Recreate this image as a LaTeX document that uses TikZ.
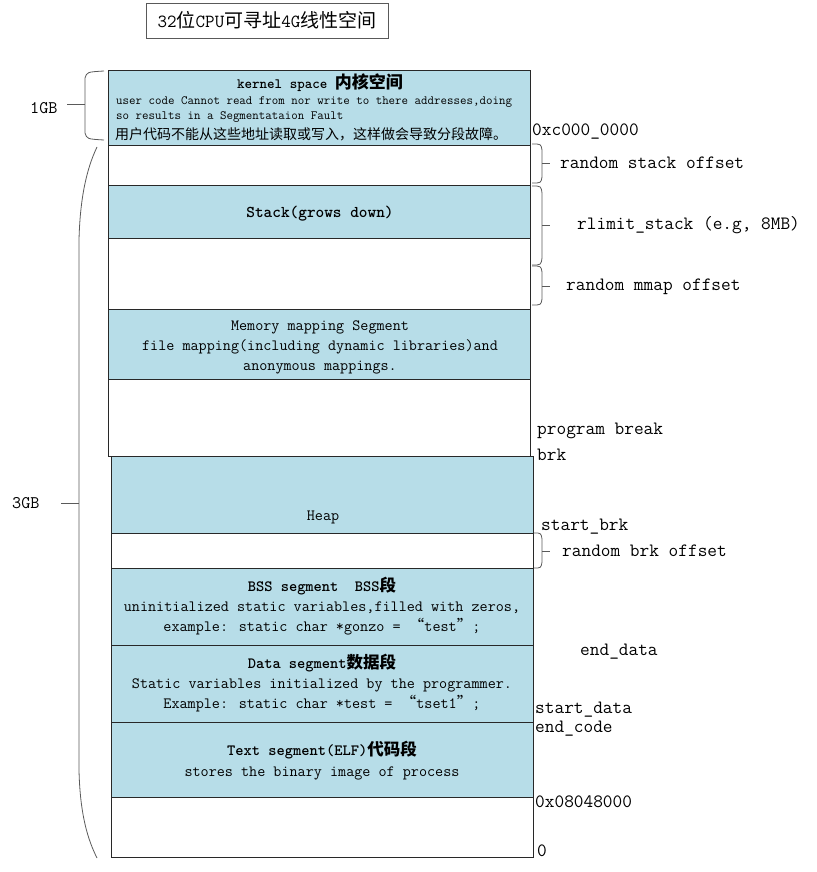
\documentclass[tikz,border=0pt]{standalone}
\usepackage{fontspec}
\newfontfamily\cjk{Noto Sans CJK SC}
\definecolor{segblue}{RGB}{183,221,232}
\definecolor{edgecol}{RGB}{40,40,40}
\definecolor{bracecol}{RGB}{90,90,90}
\newcommand\fsz[1]{\fontsize{#1}{#1}\selectfont}
\newcommand\zh[2]{{\fontsize{#1}{#1}\cjk #2}}
\begin{document}
\ttfamily
\begin{tikzpicture}[x=1pt,y=-1pt,
  seg/.style={draw=edgecol, line width=0.9pt, fill=white},
  blueseg/.style={draw=edgecol, line width=0.9pt, fill=segblue},
  txt/.style={inner sep=0pt, align=center, font=\ttfamily\fontsize{15.7}{20}\selectfont},
  ktxt/.style={inner sep=0pt, anchor=west, font=\ttfamily\fsz{12.6}},
  lbl/.style={inner sep=0pt, anchor=west, font=\ttfamily\fsz{18.8}},
  brc/.style={draw=bracecol, line width=0.8pt}]
\useasboundingbox (0,0) rectangle (816,872);
% title
\node[draw=gray!70!black, line width=0.9pt, minimum width=242, minimum height=35, inner sep=0pt, font=\ttfamily\fsz{18.5}] (title) at (267,20.5)
  {32\zh{19}{位}CPU\zh{19}{可寻址}4G\zh{19}{线性空间}};
% segments (upper column)
\draw[blueseg] (108,70) rectangle (530,145);
\draw[seg] (108,145) rectangle (530,185);
\draw[blueseg] (108,185) rectangle (530,238);
\draw[seg] (108,238) rectangle (530,309);
\draw[blueseg] (108,309) rectangle (530,379);
\draw[seg] (108,379) rectangle (530,456);
% lower column
\draw[blueseg] (111,456) rectangle (533,533);
\draw[seg] (111,533) rectangle (533,568);
\draw[blueseg] (111,568) rectangle (533,645);
\draw[blueseg] (111,645) rectangle (533,722);
\draw[blueseg] (111,722) rectangle (533,797);
\draw[seg] (111,797) rectangle (533,857);
% kernel text
\node[inner sep=0pt, font=\ttfamily\bfseries\fsz{14.3}] (ktitle) at (320,83) {kernel space \zh{17}{\bfseries 内核空间}};
\node[ktxt] (k1) at (116,102) {user code Cannot read from nor write to there addresses,doing};
\node[ktxt] (k2) at (116,117) {so results in a Segmentataion Fault};
\node[inner sep=0pt, anchor=west] (k3) at (115,134) {\zh{14}{用户代码不能从这些地址读取或写入，这样做会导致分段故障。}};
% segment texts
\node[txt, font=\ttfamily\bfseries\fsz{16.5}] (stack) at (320,214) {Stack(grows down)};
\node[txt] (mmap) at (320,347) {Memory mapping Segment\\file mapping(including dynamic libraries)and\\anonymous mappings.};
\node[txt] (heap) at (323,517) {Heap};
\node[txt] (bss) at (322,606) {{\bfseries BSS segment\ \ BSS\zh{16.5}{段}}\\uninitialized static variables,filled with zeros,\\example: static char *gonzo = \zh{15.7}{“}test\zh{15.7}{”};};
\node[txt] (data) at (322,683) {{\bfseries Data segment\zh{16.5}{数据段}}\\Static variables initialized by the programmer.\\Example: static char *test = \zh{15.7}{“}tset1\zh{15.7}{”};};
\node[txt, font=\ttfamily\fontsize{15.7}{21}\selectfont] (text) at (322,760.5) {{\bfseries Text segment(ELF)\zh{16.5}{代码段}}\\stores the binary image of process};
% right labels
\node[lbl] (kaddr) at (532,132) {0xc000\_0000};
\node[lbl] (rso) at (560,163) {random stack offset};
\node[lbl] (rls) at (577,225) {rlimit\_stack (e.g, 8MB)};
\node[lbl] (rmo) at (566,287) {random mmap offset};
\node[lbl] (pbrk) at (537,431) {program break};
\node[lbl] (brk) at (537,455) {brk};
\node[lbl] (sbrk) at (541,527) {start\_brk};
\node[lbl] (rbo) at (562,551) {random brk offset};
\node[lbl] (edata) at (580,652) {end\_data};
\node[lbl] (sdata) at (535,710) {start\_data};
\node[lbl] (ecode) at (535,729) {end\_code};
\node[lbl] (taddr) at (535,802) {0x08048000};
\node[lbl] (zero) at (537,851) {0};
% left labels
\node[lbl, font=\ttfamily\fsz{17.7}] (g1) at (30,108) {1GB};
\node[lbl, font=\ttfamily\fsz{17.7}] (g3) at (12,503) {3GB};
% right braces
\draw[brc] (532,144) .. controls (541,144) .. (542,150) -- (542,177) .. controls (541,183) .. (532,183);
\draw[brc] (542,163) -- (550,163);
\draw[brc] (532,186) .. controls (541,186) .. (542,193) -- (542,258) .. controls (541,265) .. (532,265);
\draw[brc] (542,225) -- (550,225);
\draw[brc] (532,266) .. controls (541,266) .. (542,272) -- (542,299) .. controls (541,305) .. (532,305);
\draw[brc] (542,286) -- (550,286);
\draw[brc] (534,533) .. controls (541,533) .. (542,539) -- (542,562) .. controls (541,568) .. (534,568);
\draw[brc] (542,551) -- (550,551);
% left braces
\draw[brc] (104,71) .. controls (87,72) .. (85,78) -- (85,133) .. controls (87,139) .. (104,140);
\draw[brc] (67,104) -- (85,104);
\draw[brc] (97,147) .. controls (86,170) and (80,200) .. (79,240) -- (79,770) .. controls (80,815) and (88,840) .. (97,858);
\draw[brc] (61,503) -- (79,503);
\end{tikzpicture}
\end{document}
